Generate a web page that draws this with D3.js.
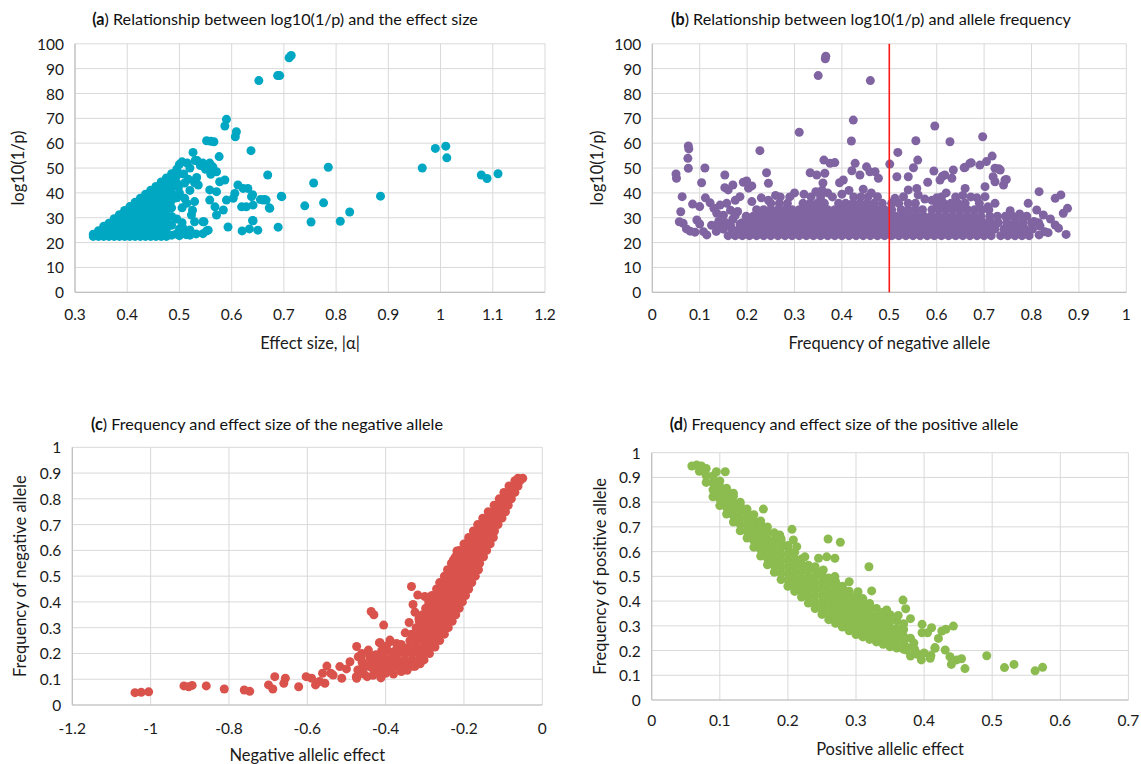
<!DOCTYPE html>
<html>
<head>
<meta charset="utf-8">
<script src="https://cdn.jsdelivr.net/npm/d3@7"></script>
<style>
  body { margin: 0; background: #fff; }
  svg { font-family: Lato, "Open Sans", sans-serif; }
</style>
</head>
<body>
<script>
// ---------- (a) effect size |alpha| vs log10(1/p) ----------
// dense core, one column per entry: [x, y1, y2, ...]
const aCore = [
  [0.335, 22.5, 23.4],
  [0.345, 22.5, 24.8],
  [0.355, 22.5, 25.2, 26.6],
  [0.365, 22.5, 25.0, 27.8],
  [0.375, 22.5, 25.0, 27.5, 29.6],
  [0.385, 22.5, 25.0, 27.5, 30.0, 31.2],
  [0.395, 22.5, 25.0, 27.5, 30.0, 32.9],
  [0.405, 22.5, 25.0, 27.5, 30.0, 32.5, 34.5],
  [0.415, 22.5, 25.0, 27.5, 30.0, 32.5, 35.0, 36.2],
  [0.425, 22.5, 25.0, 27.5, 30.0, 32.5, 35.0, 37.8],
  [0.435, 22.5, 25.0, 27.5, 30.0, 32.5, 35.0, 37.5, 39.5],
  [0.445, 22.5, 25.0, 27.5, 30.0, 32.5, 35.0, 37.5, 40.0, 41.1],
  [0.455, 22.5, 25.0, 27.5, 30.0, 32.5, 35.0, 37.5, 40.0, 42.6],
  [0.465, 22.5, 25.0, 27.5, 30.0, 32.5, 35.0, 37.5, 40.0, 42.5, 44.4],
  [0.475, 22.5, 25.5, 28.0, 31.0, 33.5, 36.0, 38.5, 41.0, 43.5, 46.0],
  [0.485, 23.0, 27.0, 30.5, 34.0, 37.0, 40.0, 42.5, 45.0, 47.7],
  [0.495, 23.5, 29.5, 38.0, 44.0, 47.0, 49.5]
]
const aPoints = [
  [0.590, 69.6], [0.587, 66.9], [0.609, 64.6], [0.607, 62.6], [0.552, 61.0], [0.560, 60.8], [0.566, 60.6],
  [0.637, 57.0], [0.526, 56.3], [0.576, 54.6], [0.669, 47.2], [0.696, 38.5], [0.740, 34.8], [0.689, 26.2],
  [0.593, 26.3], [0.620, 24.7], [0.634, 25.5], [0.641, 28.8], [0.650, 25.0], [0.547, 28.4], [0.552, 24.7],
  [0.558, 52.0], [0.564, 50.5], [0.571, 48.5], [0.534, 53.0], [0.540, 51.0], [0.577, 44.5], [0.587, 45.2],
  [0.612, 43.2], [0.631, 41.8], [0.558, 41.2], [0.571, 40.5], [0.531, 45.2], [0.536, 43.2], [0.498, 42.3],
  [0.510, 37.8], [0.529, 36.5], [0.558, 37.1], [0.568, 34.4], [0.571, 31.1], [0.584, 33.1], [0.590, 37.1],
  [0.603, 37.8], [0.619, 34.4], [0.628, 34.4], [0.641, 35.1], [0.660, 37.1], [0.666, 37.1], [0.673, 33.8],
  [0.638, 38.5], [0.622, 41.8], [0.606, 39.8], [0.523, 31.1], [0.529, 28.4], [0.532, 23.5], [0.494, 23.5],
  [0.513, 23.2], [0.500, 51.5], [0.505, 52.5], [0.515, 52.0], [0.520, 50.0], [0.530, 53.0], [0.545, 52.0],
  [0.550, 49.5], [0.560, 47.5], [0.500, 25.5], [0.505, 28.0], [0.514, 35.8], [0.505, 34.0], [0.500, 40.0],
  [0.510, 44.0], [0.508, 47.6], [0.517, 45.5], [0.529, 44.1], [0.533, 46.2], [0.520, 41.0], [0.525, 33.0],
  [0.507, 25.7], [0.520, 25.1], [0.545, 28.4], [0.500, 22.8], [0.512, 24.0], [0.520, 23.0], [0.545, 23.6],
  [0.555, 25.0], [0.652, 85.2], [0.688, 87.2], [0.692, 87.2], [0.710, 94.4], [0.714, 95.3], [0.757, 44.0],
  [0.785, 50.3], [0.776, 36.0], [0.752, 28.3], [0.808, 28.6], [0.826, 32.3], [0.885, 38.7], [0.965, 50.0],
  [0.990, 57.9], [1.010, 58.8], [1.012, 54.1], [1.078, 47.2], [1.089, 45.8], [1.110, 47.7], [0.640, 28.9],
  [0.672, 34.0], [0.655, 37.3], [0.663, 37.3], [0.640, 39.3], [0.695, 38.7]
]

// ---------- (b) frequency of negative allele vs log10(1/p) ----------
// dense band, one row per entry: [y, x1, x2, ...]
const bCore = [
  [22.8, 0.160, 0.175, 0.190, 0.205, 0.220, 0.235, 0.250, 0.265, 0.280, 0.295, 0.310, 0.325, 0.340, 0.355,
    0.370, 0.385, 0.400, 0.415, 0.430, 0.445, 0.460, 0.475, 0.490, 0.505, 0.520, 0.535, 0.550, 0.565, 0.580,
    0.595, 0.610, 0.625, 0.640, 0.655, 0.670, 0.685, 0.700, 0.715, 0.735, 0.750, 0.765, 0.780, 0.795],
  [25.4, 0.150, 0.168, 0.183, 0.198, 0.213, 0.228, 0.243, 0.258, 0.273, 0.288, 0.303, 0.318, 0.333, 0.348,
    0.363, 0.378, 0.393, 0.408, 0.423, 0.438, 0.453, 0.468, 0.483, 0.498, 0.513, 0.528, 0.543, 0.558, 0.573,
    0.588, 0.603, 0.618, 0.633, 0.648, 0.663, 0.678, 0.693, 0.708, 0.723, 0.742, 0.757, 0.772, 0.787, 0.802],
  [28.0, 0.190, 0.205, 0.220, 0.235, 0.250, 0.265, 0.280, 0.295, 0.310, 0.325, 0.340, 0.355, 0.370, 0.385,
    0.400, 0.415, 0.430, 0.445, 0.460, 0.475, 0.490, 0.505, 0.520, 0.535, 0.550, 0.565, 0.580, 0.595, 0.610,
    0.625, 0.640, 0.655, 0.670, 0.685, 0.700, 0.715, 0.730, 0.748, 0.765, 0.782, 0.800, 0.815],
  [30.6, 0.198, 0.213, 0.228, 0.243, 0.258, 0.273, 0.288, 0.303, 0.318, 0.333, 0.348, 0.363, 0.378, 0.393,
    0.408, 0.423, 0.438, 0.453, 0.468, 0.483, 0.498, 0.513, 0.528, 0.543, 0.558, 0.573, 0.588, 0.603, 0.618,
    0.633, 0.648, 0.663, 0.678, 0.693, 0.712, 0.728, 0.745, 0.760, 0.775, 0.790],
  [33.2, 0.220, 0.235, 0.250, 0.265, 0.280, 0.295, 0.310, 0.325, 0.340, 0.355, 0.370, 0.385, 0.400, 0.415,
    0.430, 0.445, 0.460, 0.475, 0.490, 0.505, 0.525, 0.540, 0.555, 0.570, 0.590, 0.605, 0.620, 0.635, 0.650,
    0.665, 0.680, 0.695, 0.710],
  [35.8, 0.250, 0.268, 0.285, 0.318, 0.333, 0.348, 0.363, 0.393, 0.408, 0.423, 0.438, 0.453, 0.468, 0.485,
    0.505, 0.520, 0.540, 0.555, 0.600, 0.615, 0.630, 0.645, 0.660, 0.690],
  [38.4, 0.270, 0.290, 0.335, 0.355, 0.380, 0.425, 0.440, 0.455, 0.610, 0.640, 0.672]
]
const bPoints = [
  [0.050, 47.6], [0.051, 45.9], [0.076, 58.9], [0.077, 57.7], [0.075, 53.9], [0.076, 49.9], [0.111, 50.0],
  [0.104, 44.1], [0.063, 38.5], [0.153, 47.2], [0.153, 42.1], [0.160, 41.2], [0.170, 43.2], [0.192, 44.3],
  [0.199, 44.8], [0.203, 41.9], [0.210, 42.8], [0.227, 57.0], [0.241, 48.1], [0.245, 43.9], [0.310, 64.4],
  [0.424, 69.3], [0.420, 60.9], [0.333, 48.1], [0.347, 47.2], [0.364, 47.9], [0.362, 53.2], [0.375, 51.9],
  [0.385, 52.2], [0.428, 51.9], [0.421, 48.9], [0.452, 50.5], [0.459, 48.5], [0.470, 48.5], [0.477, 45.9],
  [0.438, 47.2], [0.395, 44.1], [0.403, 45.2], [0.360, 44.0], [0.358, 41.0], [0.060, 32.4], [0.057, 28.4],
  [0.065, 27.8], [0.072, 25.5], [0.080, 24.6], [0.090, 24.2], [0.094, 29.1], [0.108, 24.4], [0.115, 23.1],
  [0.136, 31.8], [0.143, 35.1], [0.157, 35.8], [0.085, 35.5], [0.100, 34.5], [0.112, 38.0], [0.122, 36.0],
  [0.130, 33.8], [0.125, 27.0], [0.140, 26.5], [0.100, 27.5], [0.175, 37.0], [0.185, 38.5], [0.180, 32.5],
  [0.170, 29.5], [0.210, 36.5], [0.230, 38.0], [0.135, 24.5], [0.140, 28.5], [0.150, 31.0], [0.165, 33.0],
  [0.175, 31.0], [0.185, 27.5], [0.165, 27.0], [0.155, 28.0], [0.350, 87.2], [0.365, 94.0], [0.366, 95.0],
  [0.460, 85.2], [0.596, 66.9], [0.556, 61.0], [0.628, 60.6], [0.697, 62.6], [0.518, 56.3], [0.501, 51.6],
  [0.560, 53.2], [0.551, 50.1], [0.516, 46.5], [0.540, 46.5], [0.594, 48.8], [0.581, 44.3], [0.607, 45.2],
  [0.617, 47.2], [0.635, 49.2], [0.632, 45.9], [0.660, 50.3], [0.670, 51.9], [0.691, 51.2], [0.705, 52.6],
  [0.717, 54.8], [0.723, 49.9], [0.734, 49.2], [0.719, 46.5], [0.723, 44.5], [0.744, 45.2], [0.741, 43.2],
  [0.660, 41.8], [0.702, 42.5], [0.816, 40.5], [0.850, 37.8], [0.862, 39.2], [0.876, 33.8], [0.867, 31.8],
  [0.873, 23.3], [0.850, 27.1], [0.857, 25.8], [0.818, 26.7], [0.828, 24.4], [0.816, 23.1], [0.825, 31.1],
  [0.793, 35.8], [0.811, 33.1], [0.755, 32.8], [0.708, 34.4], [0.702, 38.5], [0.723, 35.8], [0.540, 41.2],
  [0.558, 41.8], [0.561, 39.2], [0.512, 37.8], [0.600, 38.0], [0.590, 37.0], [0.805, 28.5], [0.775, 31.5],
  [0.835, 24.0], [0.840, 29.5], [0.612, 46.7], [0.658, 50.1], [0.673, 52.1], [0.731, 49.7], [0.747, 45.4],
  [0.300, 40.0], [0.320, 39.5], [0.345, 40.5], [0.370, 40.0], [0.400, 39.5], [0.415, 41.0], [0.445, 41.5],
  [0.462, 40.0], [0.475, 38.5], [0.530, 38.5], [0.620, 40.0], [0.655, 39.0], [0.685, 38.0], [0.575, 37.5],
  [0.260, 39.0], [0.245, 37.0]
]
const bRefLine = 0.5

// ---------- (c) negative allelic effect vs frequency ----------
// dense band, one row per entry: [y, x1, x2, ...]
const cCore = [
  [0.150, -0.395, -0.377, -0.359, -0.341, -0.325],
  [0.175, -0.386, -0.368, -0.350, -0.332, -0.316, -0.302],
  [0.200, -0.370, -0.352, -0.334, -0.316, -0.300, -0.288],
  [0.225, -0.358, -0.340, -0.322, -0.304, -0.287, -0.274],
  [0.250, -0.338, -0.322, -0.306, -0.290, -0.274, -0.262],
  [0.275, -0.334, -0.316, -0.298, -0.280, -0.264, -0.250],
  [0.300, -0.322, -0.304, -0.286, -0.268, -0.252, -0.240],
  [0.325, -0.314, -0.296, -0.278, -0.260, -0.243, -0.230],
  [0.350, -0.306, -0.288, -0.270, -0.252, -0.234, -0.221],
  [0.375, -0.298, -0.280, -0.262, -0.244, -0.226, -0.212],
  [0.400, -0.290, -0.272, -0.254, -0.236, -0.218, -0.204],
  [0.425, -0.282, -0.264, -0.246, -0.228, -0.210, -0.196],
  [0.450, -0.270, -0.252, -0.234, -0.216, -0.198, -0.188],
  [0.475, -0.262, -0.244, -0.226, -0.208, -0.190, -0.180],
  [0.500, -0.250, -0.232, -0.214, -0.196, -0.178, -0.171],
  [0.525, -0.242, -0.224, -0.206, -0.188, -0.170, -0.163],
  [0.550, -0.232, -0.214, -0.196, -0.178, -0.160],
  [0.575, -0.222, -0.204, -0.186, -0.168, -0.150],
  [0.600, -0.212, -0.194, -0.176, -0.158, -0.142],
  [0.625, -0.200, -0.182, -0.164, -0.146, -0.133],
  [0.650, -0.188, -0.170, -0.152, -0.134, -0.125],
  [0.675, -0.176, -0.158, -0.140, -0.122],
  [0.700, -0.165, -0.147, -0.129, -0.113],
  [0.725, -0.152, -0.134, -0.116, -0.103],
  [0.750, -0.138, -0.120, -0.102, -0.094],
  [0.775, -0.123, -0.105, -0.087],
  [0.800, -0.110, -0.094, -0.079],
  [0.825, -0.098, -0.082, -0.070],
  [0.850, -0.085, -0.070, -0.062],
  [0.870, -0.070, -0.057],
  [0.880, -0.062, -0.050]
]
const cPoints = [
  [-1.040, 0.048], [-1.024, 0.049], [-1.005, 0.051], [-0.915, 0.074], [-0.903, 0.071], [-0.894, 0.076],
  [-0.858, 0.074], [-0.812, 0.062], [-0.761, 0.058], [-0.747, 0.053], [-0.699, 0.078], [-0.688, 0.062],
  [-0.683, 0.110], [-0.660, 0.084], [-0.656, 0.104], [-0.622, 0.071], [-0.603, 0.110], [-0.589, 0.104],
  [-0.579, 0.078], [-0.569, 0.091], [-0.555, 0.084], [-0.561, 0.123], [-0.550, 0.151], [-0.540, 0.123],
  [-0.534, 0.116], [-0.512, 0.104], [-0.517, 0.149], [-0.491, 0.168], [-0.471, 0.136], [-0.475, 0.110],
  [-0.462, 0.188], [-0.458, 0.149], [-0.474, 0.227], [-0.470, 0.187], [-0.461, 0.200], [-0.444, 0.213],
  [-0.440, 0.194], [-0.414, 0.242], [-0.405, 0.200], [-0.389, 0.252], [-0.372, 0.239], [-0.423, 0.136],
  [-0.400, 0.123], [-0.447, 0.110], [-0.474, 0.104], [-0.372, 0.149], [-0.389, 0.155], [-0.437, 0.363],
  [-0.430, 0.350], [-0.405, 0.310], [-0.416, 0.242], [-0.388, 0.246], [-0.334, 0.460], [-0.318, 0.427],
  [-0.300, 0.421], [-0.218, 0.598], [-0.193, 0.628], [-0.227, 0.563], [-0.219, 0.530], [-0.231, 0.517],
  [-0.455, 0.120], [-0.432, 0.115], [-0.420, 0.130], [-0.410, 0.150], [-0.430, 0.160], [-0.425, 0.172],
  [-0.405, 0.188], [-0.395, 0.210], [-0.385, 0.140], [-0.360, 0.130], [-0.380, 0.120], [-0.412, 0.105],
  [-0.500, 0.140], [-0.330, 0.390], [-0.325, 0.360], [-0.315, 0.335], [-0.340, 0.320], [-0.345, 0.135],
  [-0.330, 0.150], [-0.312, 0.160], [-0.350, 0.280], [-0.460, 0.165], [-0.448, 0.150], [-0.436, 0.145],
  [-0.440, 0.178], [-0.415, 0.170], [-0.398, 0.178], [-0.380, 0.185], [-0.365, 0.165], [-0.425, 0.195],
  [-0.410, 0.212], [-0.385, 0.205], [-0.372, 0.218], [-0.398, 0.228], [-0.360, 0.235]
]

// ---------- (d) positive allelic effect vs frequency ----------
// dense band, one column per entry: [x, y1, y2, ...]
const dCore = [
  [0.070, 0.925, 0.945],
  [0.080, 0.880, 0.908, 0.936],
  [0.090, 0.822, 0.850, 0.878, 0.906],
  [0.100, 0.786, 0.812, 0.838, 0.864, 0.886],
  [0.110, 0.752, 0.778, 0.804, 0.830, 0.856],
  [0.120, 0.720, 0.746, 0.772, 0.798, 0.824, 0.836],
  [0.130, 0.684, 0.710, 0.736, 0.762, 0.788, 0.800],
  [0.140, 0.655, 0.681, 0.707, 0.733, 0.759, 0.772],
  [0.150, 0.618, 0.644, 0.670, 0.696, 0.722, 0.749],
  [0.160, 0.582, 0.608, 0.634, 0.660, 0.686, 0.712, 0.724],
  [0.170, 0.547, 0.573, 0.599, 0.625, 0.651, 0.677, 0.700],
  [0.180, 0.517, 0.543, 0.569, 0.595, 0.621, 0.647, 0.676],
  [0.190, 0.487, 0.513, 0.539, 0.565, 0.591, 0.617, 0.643, 0.652],
  [0.200, 0.460, 0.486, 0.512, 0.538, 0.564, 0.590, 0.616, 0.625],
  [0.210, 0.439, 0.465, 0.491, 0.517, 0.543, 0.569, 0.597],
  [0.220, 0.416, 0.442, 0.468, 0.494, 0.520, 0.546, 0.570],
  [0.230, 0.392, 0.418, 0.444, 0.470, 0.496, 0.522, 0.545],
  [0.240, 0.370, 0.396, 0.422, 0.448, 0.474, 0.500, 0.530],
  [0.250, 0.346, 0.372, 0.398, 0.424, 0.450, 0.476, 0.502, 0.514],
  [0.260, 0.325, 0.351, 0.377, 0.403, 0.429, 0.455, 0.481, 0.493],
  [0.270, 0.310, 0.336, 0.362, 0.388, 0.414, 0.440, 0.466, 0.478],
  [0.280, 0.295, 0.321, 0.347, 0.373, 0.399, 0.425, 0.451, 0.460],
  [0.290, 0.280, 0.306, 0.332, 0.358, 0.384, 0.410, 0.440],
  [0.300, 0.265, 0.291, 0.317, 0.343, 0.369, 0.395, 0.420],
  [0.310, 0.255, 0.281, 0.307, 0.333, 0.359, 0.385, 0.410],
  [0.320, 0.245, 0.271, 0.297, 0.323, 0.349, 0.375, 0.390],
  [0.330, 0.235, 0.261, 0.287, 0.313, 0.339, 0.370],
  [0.340, 0.225, 0.251, 0.277, 0.303, 0.329, 0.355],
  [0.350, 0.215, 0.241, 0.267, 0.293, 0.319, 0.345],
  [0.360, 0.210, 0.236, 0.262, 0.288, 0.320],
  [0.370, 0.205, 0.231, 0.257, 0.285, 0.308]
]
const dPoints = [
  [0.059, 0.946], [0.066, 0.950], [0.073, 0.946], [0.095, 0.923], [0.108, 0.923], [0.164, 0.772],
  [0.206, 0.690], [0.188, 0.667], [0.208, 0.647], [0.213, 0.620], [0.225, 0.579], [0.240, 0.539],
  [0.259, 0.651], [0.277, 0.638], [0.245, 0.573], [0.257, 0.579], [0.269, 0.573], [0.252, 0.526],
  [0.269, 0.499], [0.290, 0.478], [0.303, 0.438], [0.319, 0.539], [0.323, 0.441], [0.345, 0.364],
  [0.362, 0.342], [0.369, 0.404], [0.373, 0.369], [0.380, 0.329], [0.350, 0.324], [0.340, 0.296],
  [0.397, 0.306], [0.411, 0.292], [0.426, 0.279], [0.432, 0.286], [0.443, 0.299], [0.421, 0.249],
  [0.416, 0.212], [0.397, 0.272], [0.405, 0.272], [0.400, 0.190], [0.410, 0.180], [0.390, 0.185],
  [0.386, 0.205], [0.380, 0.178], [0.375, 0.212], [0.374, 0.202], [0.389, 0.189], [0.396, 0.162],
  [0.409, 0.169], [0.416, 0.209], [0.431, 0.202], [0.438, 0.175], [0.448, 0.162], [0.440, 0.144],
  [0.455, 0.167], [0.460, 0.127], [0.492, 0.179], [0.518, 0.131], [0.532, 0.144], [0.563, 0.118],
  [0.574, 0.132], [0.380, 0.250], [0.385, 0.230], [0.365, 0.270], [0.355, 0.260], [0.360, 0.240]
]

// ---------- ticks ----------
const aXTicks = [0.3, 0.4, 0.5, 0.6, 0.7, 0.8, 0.9, 1, 1.1, 1.2]
const bXTicks = [0, 0.1, 0.2, 0.3, 0.4, 0.5, 0.6, 0.7, 0.8, 0.9, 1]
const cXTicks = [-1.2, -1, -0.8, -0.6, -0.4, -0.2, 0]
const dXTicks = [0, 0.1, 0.2, 0.3, 0.4, 0.5, 0.6, 0.7]
const pTicks = [0, 10, 20, 30, 40, 50, 60, 70, 80, 90, 100]
const freqTicks = [0, 0.1, 0.2, 0.3, 0.4, 0.5, 0.6, 0.7, 0.8, 0.9, 1]

// column rows [x, ys...] -> pairs, row rows [y, xs...] -> pairs
const fromCols = rows => rows.flatMap(r => r.slice(1).map(y => [r[0], y]))
const fromRows = rows => rows.flatMap(r => r.slice(1).map(x => [x, r[0]]))

const width = 1141
const height = 764

var svg = d3.select("body").append("svg")
    .attr("width", width)
    .attr("height", height)

function drawPanel(p) {
    var g = svg.append("g")

    var x = d3.scaleLinear().domain(d3.extent(p.xTicks)).range([p.left, p.right])
    var y = d3.scaleLinear().domain(d3.extent(p.yTicks)).range([p.bottom, p.top])

    //Gridlines
    g.selectAll(".hgrid").data(p.yTicks).enter().append("line")
        .attr("x1", p.left).attr("x2", p.right)
        .attr("y1", d => y(d)).attr("y2", d => y(d))
        .attr("stroke", "#d9d9d9").attr("stroke-width", 1)
    g.selectAll(".vgrid").data(p.xTicks).enter().append("line")
        .attr("y1", p.top).attr("y2", p.bottom)
        .attr("x1", d => x(d)).attr("x2", d => x(d))
        .attr("stroke", "#d9d9d9").attr("stroke-width", 1)

    //Axis lines
    g.append("line").attr("x1", p.left).attr("x2", p.right)
        .attr("y1", p.bottom).attr("y2", p.bottom)
        .attr("stroke", "#bfbfbf").attr("stroke-width", 1.2)
    g.append("line").attr("x1", p.left).attr("x2", p.left)
        .attr("y1", p.top).attr("y2", p.bottom)
        .attr("stroke", "#bfbfbf").attr("stroke-width", 1.2)

    //Tick labels
    g.selectAll(".xlab").data(p.xTicks).enter().append("text")
        .attr("x", d => x(d)).attr("y", p.bottom + p.xLabGap)
        .attr("text-anchor", "middle").attr("dominant-baseline", "central")
        .attr("font-size", 15.5).attr("fill", "#1a1a1a")
        .text(d => String(d))
    g.selectAll(".ylab").data(p.yTicks).enter().append("text")
        .attr("x", p.left - 11).attr("y", d => y(d))
        .attr("text-anchor", "end").attr("dominant-baseline", "central")
        .attr("font-size", 15.5).attr("fill", "#1a1a1a")
        .text(d => String(d))

    //Points
    g.append("g").selectAll("circle")
        .data(p.points).enter().append("circle")
        .attr("cx", d => x(d[0])).attr("cy", d => y(d[1]))
        .attr("r", 4.5)
        .style("fill", p.color)

    //Reference line
    if (p.refX !== undefined) {
        g.append("line").attr("x1", x(p.refX)).attr("x2", x(p.refX))
            .attr("y1", y(p.yTicks[p.yTicks.length - 1])).attr("y2", y(0))
            .attr("stroke", "#ff1a1a").attr("stroke-width", 1.6)
    }

    //Titles
    var t = g.append("text")
        .attr("x", p.titleX).attr("y", p.titleY)
        .attr("text-anchor", "middle").attr("dominant-baseline", "central")
        .attr("font-size", 16.2).attr("fill", "#111")
    t.append("tspan").attr("font-weight", "bold").text("(" + p.tag)
    t.append("tspan").text(") " + p.title)

    g.append("text")
        .attr("x", (p.left + p.right) / 2).attr("y", p.bottom + p.xTitleGap)
        .attr("text-anchor", "middle").attr("dominant-baseline", "central")
        .attr("font-size", 16.5).attr("fill", "#1a1a1a")
        .text(p.xTitle)
    g.append("text")
        .attr("transform", "translate(" + p.yTitleX + "," + ((p.top + p.bottom) / 2) + ") rotate(-90)")
        .attr("text-anchor", "middle").attr("dominant-baseline", "central")
        .attr("font-size", 16.5).attr("fill", "#1a1a1a")
        .text(p.yTitle)
}

drawPanel({
    left: 75, right: 545, top: 43.8, bottom: 292.3,
    xTicks: aXTicks, yTicks: pTicks,
    points: fromCols(aCore).concat(aPoints), color: "#00a7c3",
    tag: "a", title: "Relationship between log10(1/p) and the effect size", titleX: 285, titleY: 18,
    xTitle: "Effect size, |α|", yTitle: "log10(1/p)", yTitleX: 18,
    xLabGap: 22, xTitleGap: 51
})

drawPanel({
    left: 652.3, right: 1126.3, top: 43.8, bottom: 292.3,
    xTicks: bXTicks, yTicks: pTicks,
    points: fromRows(bCore).concat(bPoints), color: "#8064a2",
    refX: bRefLine,
    tag: "b", title: "Relationship between log10(1/p) and allele frequency", titleX: 871, titleY: 18,
    xTitle: "Frequency of negative allele", yTitle: "log10(1/p)", yTitleX: 597,
    xLabGap: 22, xTitleGap: 51
})

drawPanel({
    left: 72.3, right: 542.3, top: 447.3, bottom: 705,
    xTicks: cXTicks, yTicks: freqTicks,
    points: fromRows(cCore).concat(cPoints), color: "#d9534c",
    tag: "c", title: "Frequency and effect size of the negative allele", titleX: 267, titleY: 423,
    xTitle: "Negative allelic effect", yTitle: "Frequency of negative allele", yTitleX: 20,
    xLabGap: 23, xTitleGap: 50
})

drawPanel({
    left: 651.7, right: 1128.4, top: 452.7, bottom: 700,
    xTicks: dXTicks, yTicks: freqTicks,
    points: fromCols(dCore).concat(dPoints), color: "#8cbb4f",
    tag: "d", title: "Frequency and effect size of the positive allele", titleX: 844, titleY: 423,
    xTitle: "Positive allelic effect", yTitle: "Frequency of positive allele", yTitleX: 600,
    xLabGap: 20, xTitleGap: 49
})
</script>
</body>
</html>
